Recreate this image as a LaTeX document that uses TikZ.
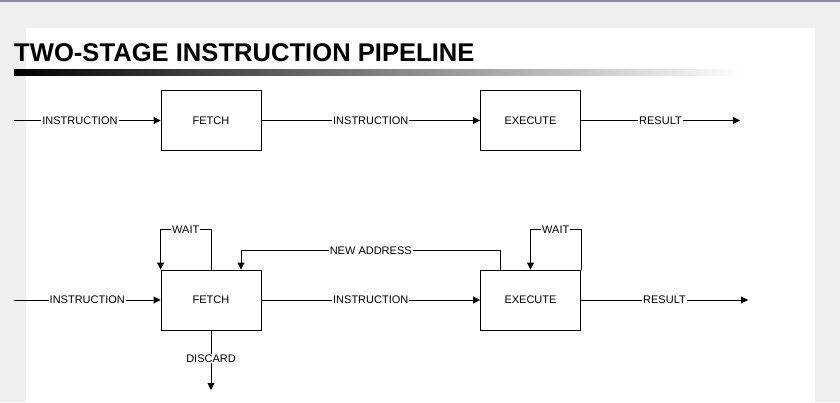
\documentclass[tikz,border=0pt]{standalone}
\usepackage{fontspec}
\setmainfont{Liberation Sans}
\usetikzlibrary{arrows.meta}
\definecolor{bgc}{HTML}{EFEFEF}
\definecolor{topc}{HTML}{8C88A8}
\begin{document}
\begin{tikzpicture}[x=1pt,y=-1pt,
  blk/.style={draw=black, line width=0.9pt, minimum width=100pt, minimum height=60pt, inner sep=0pt, font=\fontsize{11}{13}\selectfont},
  lbl/.style={fill=white, inner sep=1pt, font=\fontsize{11}{13}\selectfont},
  con/.style={line width=0.9pt, -{Triangle[length=7pt,width=7pt]}}]
\useasboundingbox (0,0) rectangle (840,402);
\fill[bgc] (0,0) rectangle (840,402);
\fill[white] (26,28) rectangle (815,402);
\fill[topc] (0,0) rectangle (840,2);
\node[anchor=base west, inner sep=0pt, font=\bfseries\fontsize{25.6}{28}\selectfont] (title) at (14,61) {TWO-STAGE INSTRUCTION PIPELINE};
\shade[left color=black, right color=white] (14,69) rectangle (743,75);
% top row
\node[blk] (f1) at (211,120.5) {FETCH};
\node[blk] (e1) at (530.5,120.5) {EXECUTE};
\coordinate (in1) at (14,120.5);
\coordinate (out1) at (740,120.5);
\draw[con] (in1) -- node[lbl,pos=0.45]{INSTRUCTION} (f1.west);
\draw[con] (f1.east) -- node[lbl]{INSTRUCTION} (e1.west);
\draw[con] (e1.east) -- node[lbl]{RESULT} (out1);
% bottom row
\node[blk] (f2) at (211,300) {FETCH};
\node[blk] (e2) at (530.5,300) {EXECUTE};
\coordinate (in2) at (14,300);
\coordinate (out2) at (748,300);
\coordinate (dis) at (211,390);
\draw[con] (in2) -- node[lbl]{INSTRUCTION} (f2.west);
\draw[con] (f2.east) -- node[lbl]{INSTRUCTION} (e2.west);
\draw[con] (e2.east) -- node[lbl]{RESULT} (out2);
\draw[con] (f2.north) -- ++(0,-40) -| node[lbl,pos=0.25]{WAIT} (f2.north west);
\draw[con] ([xshift=-30pt]e2.north) -- ++(0,-19) -| node[lbl,pos=0.25]{NEW ADDRESS} ([xshift=30pt]f2.north);
\draw[con] (e2.north east) -- ++(0,-40) -| node[lbl,pos=0.25]{WAIT} (e2.north);
\draw[con] (f2.south) -- node[lbl,pos=0.47]{DISCARD} (dis);
\end{tikzpicture}
\end{document}
